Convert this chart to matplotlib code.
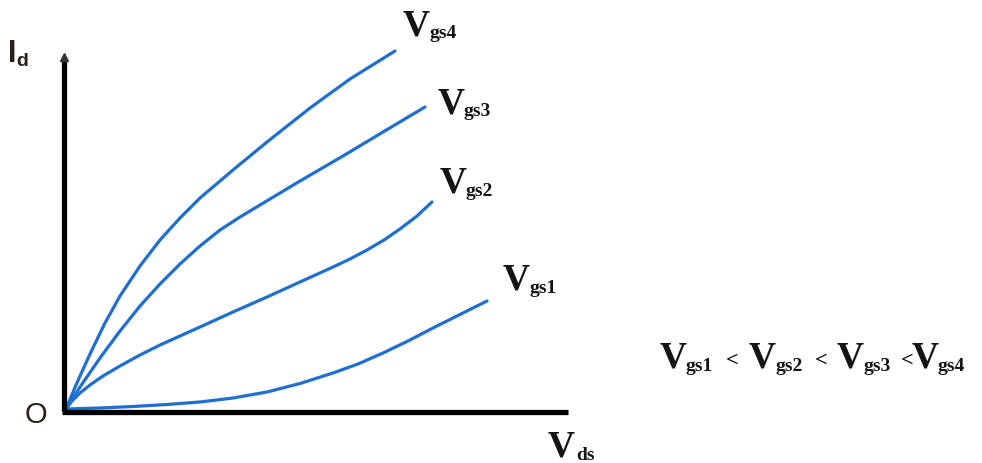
import matplotlib
matplotlib.use("Agg")
import matplotlib.pyplot as plt

W, H = 982, 464

# Drain current vs drain-source voltage for four gate voltages (arbitrary units)
vds_gs4 = [2, 12, 26, 41, 56, 76, 96, 116, 136, 169, 203, 246, 286, 331]
id_gs4 = [2, 26, 57, 88, 115, 145, 171, 193, 213, 241, 269, 303, 332, 360]

vds_gs3 = [2, 16, 36, 56, 76, 96, 116, 136, 156, 176, 196, 236, 279, 319, 361]
id_gs3 = [2, 24, 53, 80, 105, 127, 147, 165, 181, 194, 206, 230, 255, 279, 304]

vds_gs2 = [2, 8, 16, 26, 39, 56, 76, 96, 116, 136, 169, 203, 236, 269, 286,
           303, 320, 336, 353, 368]
id_gs2 = [2, 10, 18, 26, 35, 45, 56, 66, 75, 84, 99, 114, 129, 144, 152,
          161, 171, 182, 195, 209]

vds_gs1 = [2, 36, 69, 103, 136, 169, 203, 236, 269, 294, 319, 344, 369, 396, 423]
id_gs1 = [2, 3, 4.5, 6.5, 9, 13, 19, 27.5, 38, 47, 58, 70, 83, 96.5, 110]

series = [
    (vds_gs1, id_gs1),
    (vds_gs2, id_gs2),
    (vds_gs3, id_gs3),
    (vds_gs4, id_gs4),
]
curve_names = ["gs1", "gs2", "gs3", "gs4"]

fig = plt.figure(figsize=(W / 100, H / 100), dpi=100)
fig.patch.set_facecolor("white")

# axes box: origin at pixel (64, 412), x axis to 568, y axis to 50
x0, y0, x1, y1 = 64, 412, 568, 50
ax = fig.add_axes([x0 / W, 1 - y0 / H, (x1 - x0) / W, (y0 - y1) / H])
ax.set_xlim(0, x1 - x0)
ax.set_ylim(0, y0 - y1)
ax.axis("off")

blue = "#1f6fd3"
for vx, vy in series:
    ax.plot(vx, vy, color=blue, lw=2.3, solid_capstyle="round",
            solid_joinstyle="round", clip_on=False, zorder=3)

# axis lines
axis_lw = 3.8
ax.plot([0, 0], [0, 350], color="black", lw=axis_lw, clip_on=False,
        solid_capstyle="butt", zorder=4)
ax.plot([-2, 504], [-1, -1], color="black", lw=axis_lw, clip_on=False,
        solid_capstyle="butt", zorder=4)
ax.plot([0], [354], marker="^", color="#333333", markersize=6,
        clip_on=False, zorder=4)

renderer = fig.canvas.get_renderer()
serif = "Liberation Serif"
ink = "#141414"


def fx(px):
    return px / W


def fy(py):
    return 1 - py / H


def v_label(x, base, sub, vsize=27, ssize=14):
    """Bold 'V' with a smaller subscript, left edge x, baseline base (pixels)."""
    t = fig.text(fx(x), fy(base), "V", fontsize=vsize, fontweight="bold",
                 family=serif, color=ink, ha="left", va="baseline")
    bb = t.get_window_extent(renderer)
    s = fig.text((bb.x1 - 1) / W, fy(base + 3), sub, fontsize=ssize,
                 fontweight="bold", family=serif, color=ink,
                 ha="left", va="baseline")
    return s.get_window_extent(renderer)


# curve labels
v_label(403, 35, curve_names[3])
v_label(438, 113, curve_names[2])
v_label(440, 193, curve_names[1])
v_label(503, 290, curve_names[0])

# axis titles
fig.text(fx(548), fy(457), "V", fontsize=27, fontweight="bold", family=serif,
         color=ink, ha="left", va="baseline")
fig.text(fx(576), fy(460), "ds", fontsize=14, fontweight="bold", family=serif,
         color=ink, ha="left", va="baseline")
fig.text(fx(8), fy(62), "I", fontsize=22, fontweight="bold",
         family="Liberation Sans", color="#2a2118", ha="left", va="baseline")
fig.text(fx(16), fy(66), "d", fontsize=14, fontweight="bold",
         family="Liberation Sans", color="#2a2118", ha="left", va="baseline")
fig.text(fx(25), fy(423), "O", fontsize=21, family="Liberation Sans",
         color="#2a2118", ha="left", va="baseline")

# ordering of the gate voltages
v_starts = [660, 749, 837, 912]
lt_starts = [726, 815, 901]
for i, name in enumerate(curve_names):
    v_label(v_starts[i], 368, name)
for lx in lt_starts:
    fig.text(fx(lx), fy(366), "<", fontsize=16, fontweight="bold",
             family=serif, color=ink, ha="left", va="baseline")

fig.savefig("out.png", dpi=100, facecolor="white")
